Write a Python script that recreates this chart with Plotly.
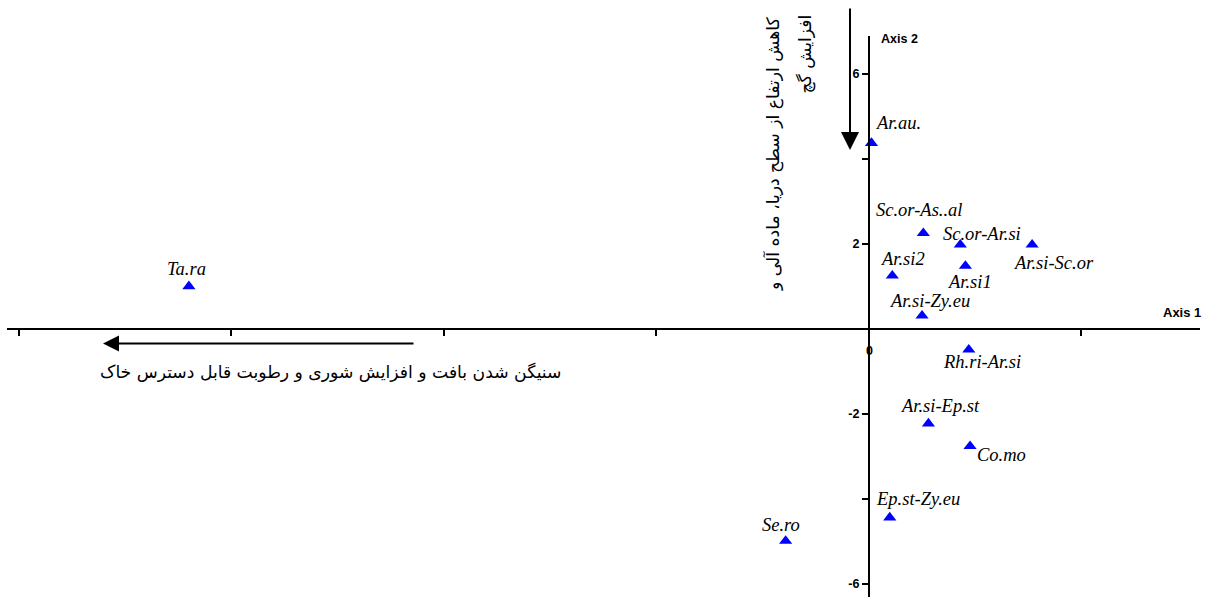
import plotly.graph_objects as go

# ---- data ----
species = ["Ar.au.", "Sc.or-As..al", "Sc.or-Ar.si", "Ar.si-Sc.or", "Ar.si2", "Ar.si1",
           "Ar.si-Zy.eu", "Rh.ri-Ar.si", "Ar.si-Ep.st", "Co.mo", "Ep.st-Zy.eu", "Se.ro", "Ta.ra"]
axis1 = [0.06, 1.28, 2.15, 3.84, 0.55, 2.27, 1.25, 2.35, 1.40, 2.38, 0.49, -1.96, -16.0]
axis2 = [4.37, 2.25, 1.98, 1.98, 1.25, 1.48, 0.31, -0.49, -2.23, -2.76, -4.44, -4.99, 1.00]

x_tickvals = [-20, -15, -10, -5, 0, 5]
x_ticktext = ["", "", "", "", "", ""]
y_tickvals = [-6, -4, -2, 0, 2, 4, 6]
y_ticktext = ["-6", "", "-2", "", "2", "", "6"]

# label offsets (pixels, right / up) relative to each point
lab_dx = [27, -4, 22, 21, 10, 4, 7, 13, 12, 31, 28, -5, -2]
lab_dy = [20, 23, 11, -18, 17, -16, 15, -12, 18, -9, 19, 16, 17]

XR = [-20.28, 7.79]
YR = [-6.31, 6.89]

fig = go.Figure()
fig.add_trace(go.Scatter(
    x=axis1, y=axis2, mode="markers",
    marker=dict(symbol="triangle-up", size=11.5, color="#0000FF", line=dict(width=0)),
    hoverinfo="text", text=species, showlegend=False, cliponaxis=False))

ann = []
for name, xv, yv, dx, dy in zip(species, axis1, axis2, lab_dx, lab_dy):
    ann.append(dict(x=xv, y=yv, xref="x", yref="y", text=name, showarrow=False,
                    xshift=dx, yshift=dy, xanchor="center", yanchor="middle",
                    font=dict(family="Liberation Serif", size=18.5, style="italic", color="black")))

W_PLOT, H_PLOT = 1193.0, 561.0
def px(xp):
    return (xp - 7) / W_PLOT
def py(yp):
    return (597 - yp) / H_PLOT

bold = dict(family="Liberation Sans", size=12.5, weight="bold", color="black")
ann.append(dict(x=px(900), y=py(39), xref="paper", yref="paper", text="Axis 2",
                showarrow=False, xanchor="center", yanchor="middle", font=bold))
ann.append(dict(x=px(1182), y=py(312), xref="paper", yref="paper", text="Axis 1",
                showarrow=False, xanchor="center", yanchor="middle",
                font=dict(family="Liberation Sans", size=13, weight="bold", color="black")))
ann.append(dict(x=0, y=0, xref="x", yref="y", text="0", showarrow=False,
                xshift=1, yshift=-22, xanchor="center", yanchor="middle", font=bold))

# arrows
ann.append(dict(x=px(850), y=py(150), xref="paper", yref="paper", text="", showarrow=True,
                ax=0, ay=-143, arrowhead=2, arrowsize=1.8, arrowwidth=2, arrowcolor="black"))
ann.append(dict(x=px(103), y=py(343.5), xref="paper", yref="paper", text="", showarrow=True,
                ax=312, ay=0, arrowhead=2, arrowsize=1.6, arrowwidth=2, arrowcolor="black"))

pfont = dict(family="DejaVu Sans", size=17.2, color="black")
ann.append(dict(x=px(330), y=py(372), xref="paper", yref="paper",
                text="سنیگن شدن بافت و افزایش شوری و رطوبت قابل دسترس خاک",
                showarrow=False, xanchor="center", yanchor="middle", font=pfont))
ann.append(dict(x=px(773), y=py(15), xref="paper", yref="paper",
                text="کاهش ارتفاع از سطح دریا، ماده آلی و", textangle=-90,
                showarrow=False, xanchor="center", yanchor="top", font=pfont))
ann.append(dict(x=px(805), y=py(13), xref="paper", yref="paper",
                text="افزایش گچ", textangle=-90,
                showarrow=False, xanchor="center", yanchor="top", font=pfont))

xpos = (0 - YR[0]) / (YR[1] - YR[0])
ypos_axis = (0 - XR[0]) / (XR[1] - XR[0])

fig.update_layout(
    width=1212, height=599,
    margin=dict(l=7, r=12, t=36, b=2, pad=0),
    paper_bgcolor="white", plot_bgcolor="white",
    annotations=ann,
    xaxis=dict(range=XR, anchor="free", position=xpos, showgrid=False, zeroline=False,
               showline=True, linecolor="black", linewidth=2,
               ticks="outside", ticklen=6, tickwidth=2, tickcolor="black",
               tickvals=x_tickvals, ticktext=x_ticktext, tickfont=bold),
    yaxis=dict(range=YR, anchor="free", position=ypos_axis, showgrid=False, zeroline=False,
               showline=True, linecolor="black", linewidth=2,
               ticks="outside", ticklen=6, tickwidth=2, tickcolor="black",
               tickvals=y_tickvals, ticktext=y_ticktext, tickfont=bold),
)

fig.write_html("out.html", config={"displayModeBar": False},
               post_script="document.body.style.margin='0px';")
